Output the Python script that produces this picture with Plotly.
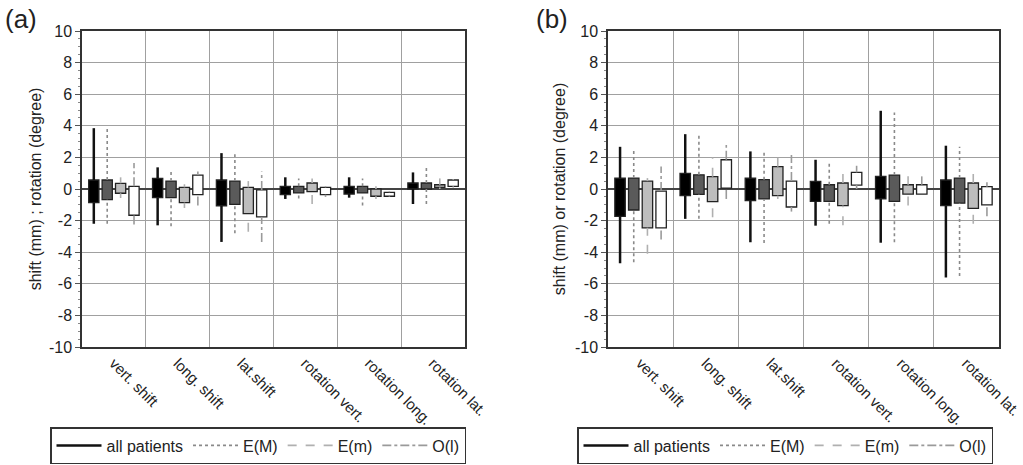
import plotly.graph_objects as go

categories = ["vert. shift", "long. shift", "lat.shift", "rotation vert.", "rotation long.", "rotation lat."]
groups = ["all patients", "E(M)", "E(m)", "O(l)"]

# ---- panel (a) ----
a_all_box_hi = [0.57, 0.67, 0.57, 0.17, 0.17, 0.38]
a_all_box_lo = [-0.86, -0.55, -1.07, -0.36, -0.32, 0.0]
a_all_wh_hi = [3.85, 1.37, 2.27, 0.74, 0.74, 1.05]
a_all_wh_lo = [-2.2, -2.3, -3.35, -0.63, -0.55, -0.95]

a_EM_box_hi = [0.57, 0.5, 0.5, 0.17, 0.17, 0.38]
a_EM_box_lo = [-0.67, -0.55, -0.97, -0.25, -0.25, 0.0]
a_EM_wh_hi = [3.8, 1.26, 2.2, 0.67, 0.67, 1.47]
a_EM_wh_lo = [-2.2, -2.35, -2.8, -0.6, -1.05, -0.95]

a_Em_box_hi = [0.36, 0.1, 0.1, 0.38, 0.0, 0.27]
a_Em_box_lo = [-0.27, -0.86, -1.56, -0.17, -0.46, 0.1]
a_Em_wh_hi = [0.74, 0.3, 0.5, 0.67, 0.17, 0.67]
a_Em_wh_lo = [-0.57, -1.2, -2.7, -0.95, -0.63, 0.0]

a_Ol_box_hi = [0.17, 0.88, -0.06, 0.1, -0.21, 0.57]
a_Ol_box_lo = [-1.66, -0.36, -1.77, -0.36, -0.46, 0.17]
a_Ol_wh_hi = [1.64, 1.1, 1.1, 0.17, -0.15, 0.63]
a_Ol_wh_lo = [-2.25, -1.05, -3.35, -0.5, -0.5, 0.1]

# ---- panel (b) ----
b_all_box_hi = [0.69, 0.99, 0.69, 0.48, 0.8, 0.57]
b_all_box_lo = [-1.73, -0.42, -0.74, -0.78, -0.63, -1.05]
b_all_wh_hi = [2.67, 3.47, 2.38, 1.85, 4.95, 2.74]
b_all_wh_lo = [-4.7, -1.89, -3.37, -2.32, -3.4, -5.6]

b_EM_box_hi = [0.69, 0.9, 0.59, 0.27, 0.88, 0.69]
b_EM_box_lo = [-1.33, -0.34, -0.63, -0.78, -0.78, -0.9]
b_EM_wh_hi = [2.57, 3.37, 2.32, 1.79, 4.84, 2.67]
b_EM_wh_lo = [-4.63, -1.89, -3.41, -2.2, -3.37, -5.5]

b_Em_box_hi = [0.5, 0.78, 1.41, 0.38, 0.27, 0.38]
b_Em_box_lo = [-2.46, -0.8, -0.42, -1.05, -0.32, -1.22]
b_Em_wh_hi = [0.69, 2.0, 2.27, 0.95, 0.8, 1.43]
b_Em_wh_lo = [-4.1, -1.79, -0.63, -2.3, -1.05, -2.2]

b_Ol_box_hi = [-0.13, 1.85, 0.5, 1.05, 0.27, 0.15]
b_Ol_box_lo = [-2.46, 0.06, -1.14, 0.25, -0.32, -1.0]
b_Ol_wh_hi = [1.43, 2.78, 2.15, 1.47, 0.8, 0.42]
b_Ol_wh_lo = [-3.2, -0.63, -1.43, 0.0, -0.32, -1.73]

y_ticks = [-10, -8, -6, -4, -2, 0, 2, 4, 6, 8, 10]
y_ticktext = [str(v) for v in y_ticks]
y_title_a = "shift (mm) ; rotation (degree)"
y_title_b = "shift (mm) or rotation (degree)"

panels = {
    "a": [
        (a_all_box_lo, a_all_box_hi, a_all_wh_lo, a_all_wh_hi),
        (a_EM_box_lo, a_EM_box_hi, a_EM_wh_lo, a_EM_wh_hi),
        (a_Em_box_lo, a_Em_box_hi, a_Em_wh_lo, a_Em_wh_hi),
        (a_Ol_box_lo, a_Ol_box_hi, a_Ol_wh_lo, a_Ol_wh_hi),
    ],
    "b": [
        (b_all_box_lo, b_all_box_hi, b_all_wh_lo, b_all_wh_hi),
        (b_EM_box_lo, b_EM_box_hi, b_EM_wh_lo, b_EM_wh_hi),
        (b_Em_box_lo, b_Em_box_hi, b_Em_wh_lo, b_Em_wh_hi),
        (b_Ol_box_lo, b_Ol_box_hi, b_Ol_wh_lo, b_Ol_wh_hi),
    ],
}

offsets = [-0.315, -0.105, 0.105, 0.315]
box_width = 0.16
box_colors = ["#000000", "#5a5a5a", "#bdbdbd", "#ffffff"]
wh_styles = [
    dict(color="#111111", width=2.5, dash="solid"),
    dict(color="#8a8a8a", width=1.6, dash="dot"),
    dict(color="#b0b0b0", width=1.6, dash="dash"),
    dict(color="#9a9a9a", width=1.6, dash="dashdot"),
]

FONT = "Liberation Sans, Arial, sans-serif"
fig = go.Figure()

for pi, (pkey, series) in enumerate(panels.items()):
    xa = "x" if pi == 0 else "x2"
    ya = "y" if pi == 0 else "y2"
    leg = "legend" if pi == 0 else "legend2"
    for k, (blo, bhi, wlo, whi) in enumerate(series):
        xs, ys = [], []
        for i in range(len(categories)):
            xv = i + offsets[k]
            xs += [xv, xv, None, xv, xv, None]
            ys += [wlo[i], blo[i], None, bhi[i], whi[i], None]
        fig.add_trace(go.Scatter(
            x=xs, y=ys, mode="lines", line=wh_styles[k], name=groups[k],
            xaxis=xa, yaxis=ya, legend=leg, showlegend=True, hoverinfo="skip"))
    for k, (blo, bhi, wlo, whi) in enumerate(series):
        fig.add_trace(go.Bar(
            x=[i + offsets[k] for i in range(len(categories))],
            y=[h - l for h, l in zip(bhi, blo)],
            base=blo, width=box_width,
            marker=dict(color=box_colors[k], line=dict(color="#222222", width=1.3)),
            xaxis=xa, yaxis=ya, showlegend=False, name=groups[k]))

W, H = 1023, 465
top_px, bot_px = 31, 347
xdom_a = [82 / W, 465 / W]
xdom_b = [608 / W, 999 / W]
ph = bot_px - top_px

axis_common_x = dict(
    range=[-0.5, len(categories) - 0.5],
    tickmode="array", tickvals=list(range(len(categories))), ticktext=categories,
    tickangle=45, showgrid=False, ticks="", zeroline=False, ticklabeloverflow="allow",
    showline=True, mirror=True, linecolor="#333333", linewidth=1.5,
    tickfont=dict(family=FONT, size=15, color="#222222"),
    minor=dict(tick0=0.5, dtick=1, showgrid=True, gridcolor="#a0a0a0", gridwidth=1, ticks=""),
)
axis_common_y = dict(
    range=[-10, 10], tickmode="array", tickvals=y_ticks, ticktext=y_ticktext,
    showgrid=True, gridcolor="#a0a0a0", gridwidth=1,
    zeroline=True, zerolinecolor="#444444", zerolinewidth=1.5,
    showline=True, mirror=True, linecolor="#333333", linewidth=1.5,
    ticks="outside", ticklen=5, tickcolor="#555555",
    minor=dict(dtick=0.5, ticks="outside", ticklen=2, tickcolor="#888888", showgrid=False),
    tickfont=dict(family=FONT, size=16, color="#222222"),
)

fig.update_layout(
    width=W, height=H,
    margin=dict(l=0, r=0, t=top_px, b=H - bot_px, autoexpand=False),
    paper_bgcolor="white", plot_bgcolor="white",
    barmode="overlay", showlegend=True,
    font=dict(family=FONT, size=15, color="#222222"),
    xaxis=dict(domain=xdom_a, anchor="y", **axis_common_x),
    xaxis2=dict(domain=xdom_b, anchor="y2", **axis_common_x),
    yaxis=dict(anchor="x", title=dict(text=y_title_a, standoff=3, font=dict(family=FONT, size=16)), **axis_common_y),
    yaxis2=dict(anchor="x2", title=dict(text=y_title_b, standoff=5, font=dict(family=FONT, size=16)), **axis_common_y),
    legend=dict(orientation="h", x=258 / W, xanchor="center", y=(bot_px - 464) / ph,
                yanchor="bottom", bordercolor="#333333", borderwidth=1.5, itemwidth=45,
                font=dict(family=FONT, size=16, color="#222222"), bgcolor="white"),
    legend2=dict(orientation="h", x=785 / W, xanchor="center", y=(bot_px - 464) / ph,
                 yanchor="bottom", bordercolor="#333333", borderwidth=1.5, itemwidth=45,
                 font=dict(family=FONT, size=16, color="#222222"), bgcolor="white"),
    annotations=[
        dict(text="(a)", x=21 / W, y=(bot_px - 19) / ph, xref="paper", yref="paper",
             xanchor="center", yanchor="middle", showarrow=False, font=dict(family=FONT, size=26, color="#222222")),
        dict(text="(b)", x=552 / W, y=(bot_px - 19) / ph, xref="paper", yref="paper",
             xanchor="center", yanchor="middle", showarrow=False, font=dict(family=FONT, size=26, color="#222222")),
    ],
)

fig.write_html("out.html")
